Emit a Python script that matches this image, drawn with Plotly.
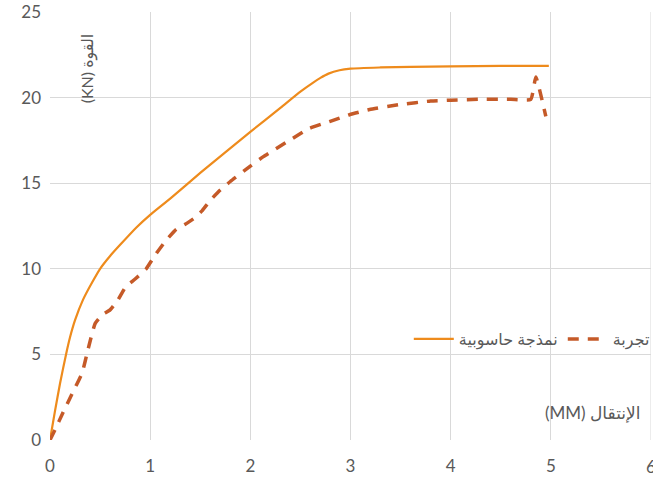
import plotly.graph_objects as go

# Simulation (computer modelling) load-displacement curve
sim_disp = [0, 0.05, 0.1, 0.16, 0.2, 0.25, 0.33, 0.42, 0.5, 0.6, 0.7, 0.86, 1.0, 1.2, 1.5, 2.0, 2.3,
            2.5, 2.62, 2.7, 2.78, 2.89, 3.0, 3.3, 3.6, 4.0, 4.5, 4.98]
sim_force = [0, 1.7, 3.3, 5.0, 6.0, 7.0, 8.2, 9.2, 10.0, 10.75, 11.4, 12.4, 13.15, 14.1, 15.6, 18.0, 19.4,
             20.35, 20.85, 21.15, 21.4, 21.6, 21.69, 21.76, 21.8, 21.82, 21.85, 21.85]

# Experimental load-displacement curve
exp_disp = [0, 0.05, 0.13, 0.22, 0.32, 0.38, 0.45, 0.52, 0.6, 0.68, 0.75, 0.85, 0.96, 1.05, 1.15, 1.26,
            1.35, 1.45, 1.52, 1.6, 1.7, 1.8, 2.0, 2.13, 2.39, 2.59, 2.79, 2.99, 3.19, 3.5, 3.8, 4.0,
            4.3, 4.6, 4.8, 4.85, 4.95]
exp_force = [0, 0.6, 1.6, 2.7, 3.9, 5.3, 6.8, 7.3, 7.6, 8.2, 8.9, 9.4, 10.0, 10.8, 11.6, 12.3,
             12.6, 13.0, 13.4, 14.0, 14.6, 15.1, 16.0, 16.55, 17.5, 18.2, 18.6, 19.0, 19.3, 19.6, 19.8, 19.85,
             19.9, 19.9, 19.9, 21.2, 18.9]

x_ticks = [0, 1, 2, 3, 4, 5, 6]
y_ticks = [0, 5, 10, 15, 20, 25]

FONT = "Lato, DejaVu Sans, sans-serif"
GRID = "#D9D9D9"
TICK = "#595959"

fig = go.Figure()
fig.add_trace(go.Scatter(
    x=sim_disp, y=sim_force, mode="lines", name="نمذجة حاسوبية",
    line=dict(color="#EE8B1C", width=2.2, shape="spline", smoothing=0.6),
))
fig.add_trace(go.Scatter(
    x=exp_disp, y=exp_force, mode="lines", name="تجربة",
    line=dict(color="#C55A28", width=3.5, dash="11px,9px", shape="spline", smoothing=0.4),
))

# the last x tick sits on the right edge of the page; draw its label explicitly
edge_label = dict(text=str(x_ticks[-1]), xref="x", yref="paper", x=x_ticks[-1], y=-0.062,
                  xanchor="center", yanchor="middle", showarrow=False,
                  font=dict(size=17, color=TICK, family=FONT))

fig.update_layout(
    width=653, height=480,
    margin=dict(l=50, r=2, t=12, b=40, autoexpand=False),
    plot_bgcolor="white", paper_bgcolor="white",
    font=dict(family=FONT, color=TICK),
    showlegend=True,
    legend=dict(
        orientation="h", x=0.597, y=0.236, xanchor="left", yanchor="middle",
        font=dict(size=16, color=TICK), bgcolor="rgba(0,0,0,0)",
        itemwidth=40,
    ),
    xaxis=dict(
        range=[0, 6], tickvals=x_ticks[:-1], showgrid=True, gridcolor=GRID, gridwidth=1,
        zeroline=False, showline=False, ticks="", tickfont=dict(size=17, color=TICK),
        ticklabelstandoff=14, automargin=False,
    ),
    yaxis=dict(
        range=[0, 25], tickvals=y_ticks, showgrid=True, gridcolor=GRID, gridwidth=1,
        zeroline=False, showline=False, ticks="", tickfont=dict(size=17, color=TICK),
        ticklabelstandoff=8, automargin=False,
    ),
    shapes=[dict(type="line", xref="x", yref="paper", x0=x_ticks[-1], x1=x_ticks[-1], y0=0, y1=1,
                 line=dict(color=GRID, width=1))],
    annotations=[
        dict(text="(KN) القوة", textangle=-90, xref="paper", yref="paper",
             x=0.062, y=0.869, xanchor="center", yanchor="middle", showarrow=False,
             font=dict(size=16, color=TICK, family=FONT)),
        dict(text="(MM) الإنتقال", xref="paper", yref="paper",
             x=0.902, y=0.065, xanchor="center", yanchor="middle", showarrow=False,
             font=dict(size=17, color=TICK, family=FONT)),
        edge_label,
    ],
)

fig.write_html("out.html")
